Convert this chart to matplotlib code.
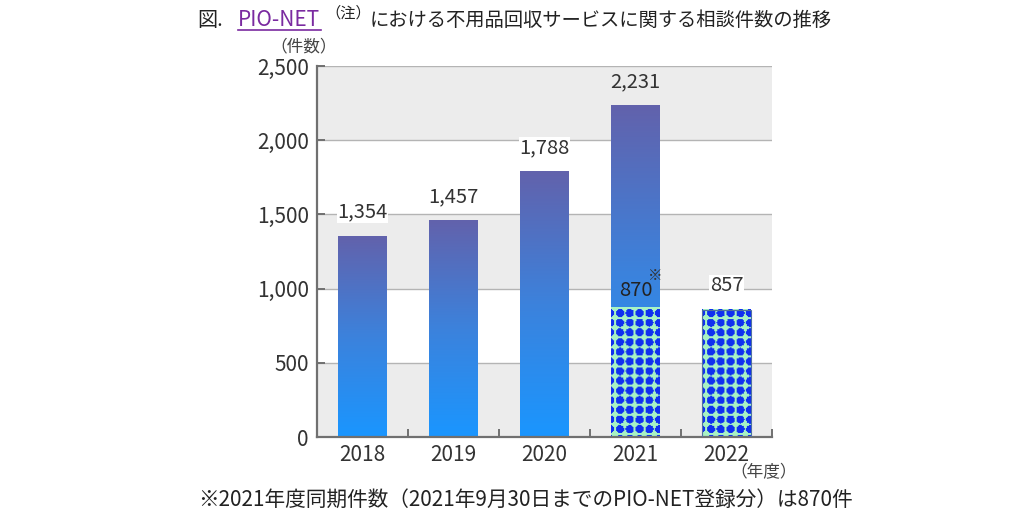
import numpy as np
import matplotlib
matplotlib.use("Agg")
import matplotlib.pyplot as plt
from matplotlib.colors import LinearSegmentedColormap, ListedColormap
from matplotlib.lines import Line2D

plt.rcParams['font.family'] = ['Noto Sans CJK JP', 'DejaVu Sans']

years = ['2018', '2019', '2020', '2021', '2022']
counts = [1354, 1457, 1788, 2231, 857]
labels = ['1,354', '1,457', '1,788', '2,231', '857']
patterned = [False, False, False, False, True]
same_period_2021 = 870
yticks = [0, 500, 1000, 1500, 2000, 2500]
ytick_labels = ['0', '500', '1,000', '1,500', '2,000', '2,500']

W, H = 1024, 513
fig = plt.figure(figsize=(W / 100, H / 100), dpi=100)
ax = fig.add_axes([317 / W, 1 - 437 / H, 455 / W, 371 / H])
ax.set_xlim(-0.5, len(years) - 0.5)
ax.set_ylim(0, 2500)

BAND = '#ececec'
# background bands
for i, y0 in enumerate(range(0, 2500, 500)):
    if i % 2 == 0:
        ax.axhspan(y0, y0 + 500, color=BAND, zorder=0, lw=0)
for y in yticks[1:]:
    ax.axhline(y, color='#b4b4b4', lw=1.0, zorder=0.5)

grad_cmap = LinearSegmentedColormap.from_list('g', ['#1a96ff', '#3c82dc', '#6262ac'])
pat_cmap = ListedColormap(['#a8f2c4', '#1030f0'])
bw = 0.53
LABEL_FONT = ['Liberation Sans Narrow', 'Noto Sans CJK JP', 'DejaVu Sans']

fig.canvas.draw()


def pattern(x0, x1, h):
    p0 = ax.transData.transform((x0, 0))
    p1 = ax.transData.transform((x1, h))
    nx = int(round(p1[0] - p0[0]))
    ny = int(round(p1[1] - p0[1]))
    yy, xx = np.mgrid[0:ny, 0:nx]
    pitch = 9.6
    u = (xx + 0.5 - 4.0) % pitch - pitch / 2
    v = (yy + 0.5 - 3.0) % pitch - pitch / 2
    d1 = np.sqrt(u ** 2 + v ** 2)
    return (d1 < 4.0).astype(float)


def label_bg(y_bottom, y_top):
    if any(y_bottom < g < y_top for g in yticks):
        return 'white'
    yc = 0.5 * (y_bottom + y_top)
    return BAND if int(yc // 500) % 2 == 0 else 'white'


for i, (v, pat) in enumerate(zip(counts, patterned)):
    x0, x1 = i - bw / 2, i + bw / 2
    if not pat:
        g = np.linspace(0, 1, 256).reshape(-1, 1)
        ax.imshow(g, cmap=grad_cmap, origin='lower', aspect='auto',
                  extent=[x0, x1, 0, v], zorder=2, interpolation='bilinear')
    else:
        ax.imshow(pattern(x0, x1, v), cmap=pat_cmap, origin='lower', aspect='auto',
                  extent=[x0, x1, 0, v], zorder=2, interpolation='bilinear', vmin=0, vmax=1)
        ax.add_patch(plt.Rectangle((x0, 0), bw, v, fill=False, ec='#5070a0', lw=0.8, zorder=3))
    ax.text(i, v + 90, labels[i], ha='center', va='bottom', fontsize=14.5,
            family=LABEL_FONT, color='#333333', zorder=4,
            bbox=dict(fc=label_bg(v + 90, v + 225), ec='none', pad=0.5))

# 2021 same-period overlay
i = years.index('2021')
x0, x1 = i - bw / 2, i + bw / 2
ax.imshow(pattern(x0, x1, same_period_2021), cmap=pat_cmap, origin='lower', aspect='auto',
          extent=[x0, x1, 0, same_period_2021], zorder=2.5, interpolation='bilinear', vmin=0, vmax=1)
ax.text(i, same_period_2021 + 45, f'{same_period_2021:,}', ha='center', va='bottom', fontsize=14.5,
        family=LABEL_FONT, color='#222222', zorder=4)
ax.text(i + 0.22, same_period_2021 + 170, '※', ha='center', va='bottom', fontsize=10.5,
        color='#333333', zorder=4)

# axes styling
for s in ['top', 'right']:
    ax.spines[s].set_visible(False)
ax.spines['left'].set_color('#707070')
ax.spines['left'].set_linewidth(1.6)
ax.spines['bottom'].set_color('#707070')
ax.spines['bottom'].set_linewidth(1.6)
ax.set_yticks(yticks)
ax.set_yticklabels(ytick_labels)
ax.set_xticks(range(len(years)))
ax.set_xticklabels(years)
ax.set_xticks(np.arange(0.5, len(years), 1.0), minor=True)
ax.tick_params(axis='x', which='major', length=0, pad=5, labelsize=15, labelcolor='#333333')
ax.tick_params(axis='x', which='minor', direction='in', length=6, color='#707070', width=1.4)
ax.tick_params(axis='y', direction='in', length=6, color='#707070', width=1.4, pad=6,
               labelsize=15, labelcolor='#333333')
for lab in ax.get_xticklabels() + ax.get_yticklabels():
    lab.set_family(LABEL_FONT)

fig.text(304 / W, 1 - 47 / H, '（件数）', ha='center', va='center', fontsize=12, color='#444444')
fig.text(764 / W, 1 - 473 / H, '（年度）', ha='center', va='center', fontsize=12, color='#444444')

# title
ty = 1 - 26 / H
fig.text(197 / W, ty, '図.', fontsize=14.5, color='#222222', va='baseline')
fig.text(238 / W, ty, 'PIO-NET', fontsize=15, color='#7a2aa0', va='baseline', family=LABEL_FONT)
fig.text(325 / W, ty + 8 / H, '（注）', fontsize=11, color='#222222', va='baseline')
fig.text(370 / W, ty, 'における不用品回収サービスに関する相談件数の推移', fontsize=13.9,
         color='#222222', va='baseline')
fig.add_artist(Line2D([238 / W, 321 / W], [ty - 4 / H, ty - 4 / H], color='#7a2aa0', lw=1.2,
                      transform=fig.transFigure))

# footnote
fig.text(0.5 + 13 / W, 1 - 500 / H, '※2021年度同期件数（2021年9月30日までのPIO-NET登録分）は870件',
         ha='center', va='center', fontsize=14.9, color='#222222')

fig.savefig('out.png', dpi=100)
